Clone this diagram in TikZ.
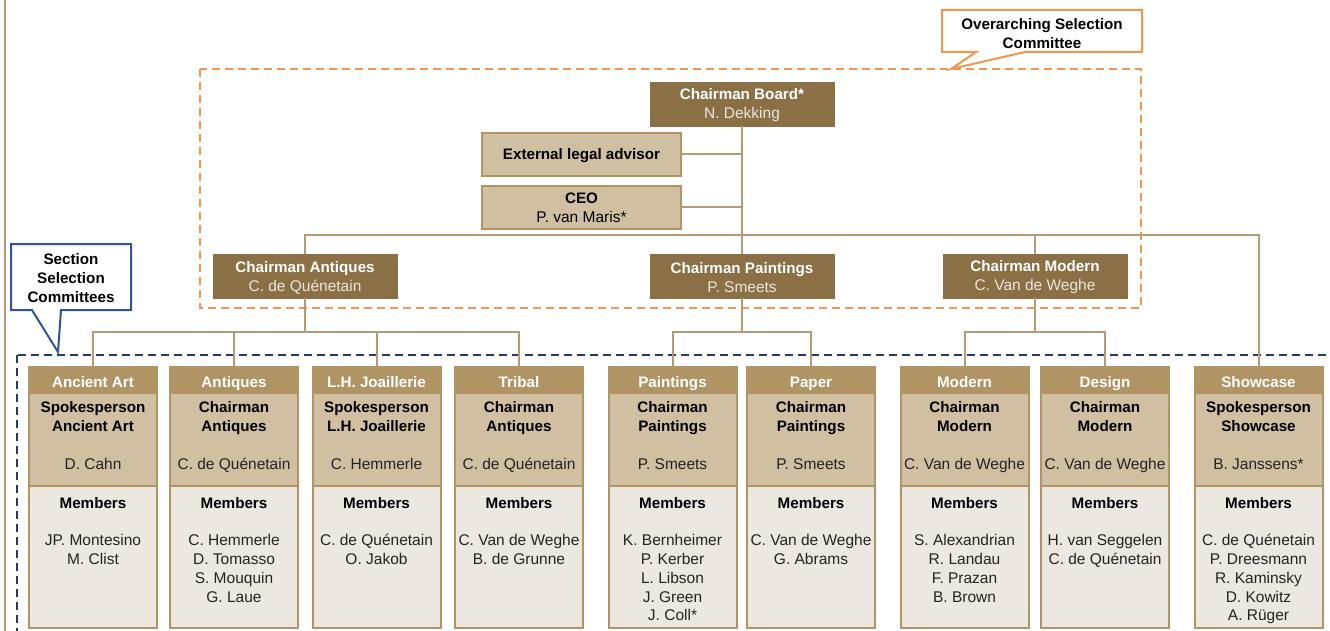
\documentclass[tikz,border=0pt]{standalone}
\usepackage{fontspec}
\setmainfont{Liberation Sans}
\definecolor{dkbrown}{RGB}{139,112,70}
\definecolor{tanc}{RGB}{176,148,100}
\definecolor{leadc}{RGB}{208,191,161}
\definecolor{memc}{RGB}{237,232,223}
\definecolor{connc}{RGB}{180,155,115}
\definecolor{orangec}{RGB}{240,150,80}
\definecolor{bluec}{RGB}{35,60,105}
\definecolor{bluecall}{RGB}{47,85,151}
\definecolor{txtc}{RGB}{35,35,35}
\definecolor{paletxt}{RGB}{235,230,220}
\newcommand{\ftf}{\fontsize{15.2}{19}\selectfont}
\newcommand{\ftr}{\fontsize{15.5}{19}\selectfont}
\tikzset{
  chairbox/.style={fill=dkbrown, draw=dkbrown, minimum width=184pt, minimum height=44pt, inner sep=0pt},
  chairtext/.style={text=white, align=center, inner sep=0pt, font=\ftf},
  staffbox/.style={fill=leadc, draw=tanc, line width=1.5pt, minimum width=199pt, minimum height=43pt, inner sep=0pt},
  stafftext/.style={align=center, inner sep=0pt, font=\ftf},
  conn/.style={draw=connc, line width=2pt},
  secframe/.style={draw=tanc, line width=2pt, minimum width=128pt, minimum height=261pt, inner sep=0pt},
  sectitle/.style={text=white, font=\bfseries\ftf, anchor=base, inner sep=0pt},
  secrole/.style={text=black, font=\bfseries\ftf, anchor=base, inner sep=0pt},
  secname/.style={text=txtc, font=\ftr, anchor=base, inner sep=0pt},
  calltext/.style={align=center, font=\bfseries\ftf, inner sep=0pt},
}
% #1 name, #2 center x, #3 title, #4 role line 1, #5 role line 2, #6 leader, #7 members
\newcommand{\secbox}[7]{%
  \fill[tanc] (#2-64,367) rectangle (#2+64,394);
  \fill[leadc] (#2-64,394) rectangle (#2+64,486);
  \fill[memc] (#2-64,486) rectangle (#2+64,628);
  \draw[draw=tanc, line width=2pt] (#2-64,486) -- (#2+64,486);
  \node[secframe] (#1) at (#2,497.5) {};
  \node[sectitle] (#1-t) at (#2,387) {#3};
  \node[secrole] (#1-ra) at (#2,412.7) {#4};
  \node[secrole] (#1-rb) at (#2,431.6) {#5};
  \node[secname] (#1-l) at (#2,469.3) {#6};
  \node[secrole] (#1-m) at (#2,508) {Members};
  \foreach \m [count=\i from 0] in {#7} {\node[secname] (#1-n\i) at (#2,545.6+18.8*\i) {\m};}
}
\begin{document}
\begin{tikzpicture}[x=1pt,y=-1pt]
\useasboundingbox (0,0) rectangle (1330,631);
\clip (0,0) rectangle (1330,631);
% left rule
\coordinate (ltop) at (5,0);
\coordinate (lbot) at (5,631);
\draw[conn, line width=2.5pt] (ltop) -- (lbot);
% dashed groups
\draw[orangec, line width=2pt, dash pattern=on 8pt off 5pt] (200,69) rectangle (1141,308);
\draw[bluec, line width=2pt, dash pattern=on 8pt off 5pt] (17,355) rectangle (1345,650);
% top nodes
\node[chairbox] (board) at (742,104) {};
\node[chairtext] (board-x) at (742,105.5) {\textbf{Chairman Board*}\\\textcolor{paletxt}{\ftr N. Dekking}};
\node[staffbox] (ela) at (581.5,154.5) {};
\node[stafftext] (ela-x) at (581.5,155.5) {\textbf{External legal advisor}};
\node[staffbox] (ceo) at (581.5,207.5) {};
\node[stafftext] (ceo-x) at (581.5,207.5) {\textbf{CEO}\\{\ftr P. van Maris*}};
\node[chairbox] (cant) at (305,276) {};
\node[chairtext] (cant-x) at (305,277.5) {\textbf{Chairman Antiques}\\\textcolor{paletxt}{\ftr C. de Quénetain}};
\node[chairbox] (cpai) at (742,276) {};
\node[chairtext] (cpai-x) at (742,277.5) {\textbf{Chairman Paintings}\\\textcolor{paletxt}{\ftr P. Smeets}};
\node[chairbox] (cmod) at (1035,276) {};
\node[chairtext] (cmod-x) at (1035,277.5) {\textbf{Chairman Modern}\\\textcolor{paletxt}{\ftr C. Van de Weghe}};
% section boxes
\secbox{sanc}{93}{Ancient Art}{Spokesperson}{Ancient Art}{D. Cahn}{JP. Montesino, M. Clist}
\secbox{sant}{234}{Antiques}{Chairman}{Antiques}{C. de Quénetain}{C. Hemmerle, D. Tomasso, S. Mouquin, G. Laue}
\secbox{sjoa}{376.5}{L.H. Joaillerie}{Spokesperson}{L.H. Joaillerie}{C. Hemmerle}{C. de Quénetain, O. Jakob}
\secbox{strb}{519}{Tribal}{Chairman}{Antiques}{C. de Quénetain}{C. Van de Weghe, B. de Grunne}
\secbox{spai}{672.5}{Paintings}{Chairman}{Paintings}{P. Smeets}{K. Bernheimer, P. Kerber, L. Libson, J. Green, J. Coll*}
\secbox{spap}{811}{Paper}{Chairman}{Paintings}{P. Smeets}{C. Van de Weghe, G. Abrams}
\secbox{smod}{964.5}{Modern}{Chairman}{Modern}{C. Van de Weghe}{S. Alexandrian, R. Landau, F. Prazan, B. Brown}
\secbox{sdes}{1105}{Design}{Chairman}{Modern}{C. Van de Weghe}{H. van Seggelen, C. de Quénetain}
\secbox{ssho}{1258.5}{Showcase}{Spokesperson}{Showcase}{B. Janssens*}{C. de Quénetain, P. Dreesmann, R. Kaminsky, D. Kowitz, A. Rüger}
% connectors
\draw[conn] (ela.east) -- (ela.east -| board.south);
\draw[conn] (ceo.east) -- (ceo.east -| board.south);
\draw[conn] (board.south) -- ++(0,109) -| (cant.north);
\draw[conn] (board.south) -- (cpai.north);
\draw[conn] (board.south) -- ++(0,109) -| (cmod.north);
\draw[conn] (board.south) -- ++(0,109) -| (ssho.north);
\foreach \s in {sanc,sant,sjoa,strb} {\draw[conn] (cant.south) -- ++(0,34) -| (\s.north);}
\foreach \s in {spai,spap} {\draw[conn] (cpai.south) -- ++(0,34) -| (\s.north);}
\foreach \s in {smod,sdes} {\draw[conn] (cmod.south) -- ++(0,34) -| (\s.north);}
% callouts
\draw[orangec, line width=2pt, fill=white, line join=miter] (942,10) -- (1142,10) -- (1142,52) -- (1025,52) -- (951,69) -- (976,52) -- (942,52) -- cycle;
\node[calltext] (osc) at (1042,33.5) {Overarching Selection\\Committee};
\draw[bluecall, line width=2pt, fill=white, line join=miter] (11,244) -- (131,244) -- (131,310) -- (61,310) -- (58,352) -- (32,310) -- (11,310) -- cycle;
\node[calltext] (ssc) at (71,278) {Section\\Selection\\Committees};
\end{tikzpicture}
\end{document}
